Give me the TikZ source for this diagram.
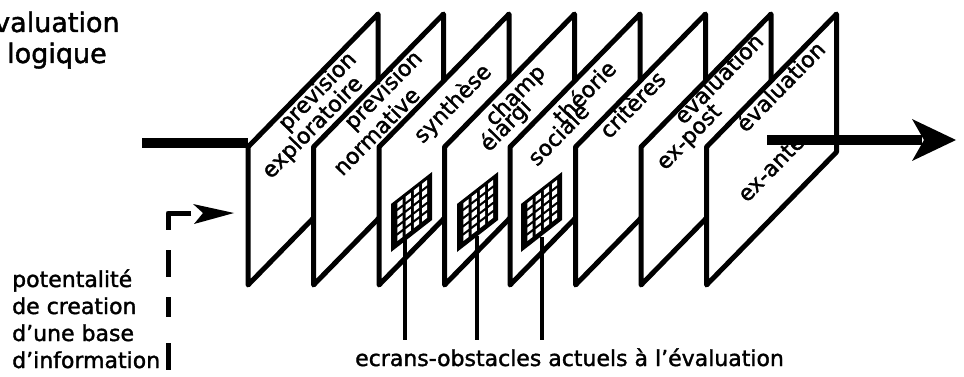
\documentclass[tikz,border=0pt]{standalone}
\usepackage{fontspec}
\setmainfont{DejaVu Sans}[FakeBold=1.6]
\usetikzlibrary{calc}
\newcommand{\drawpanel}[2]{%
  \coordinate (p#1-bl) at (#2,285);
  \coordinate (p#1-tl) at (#2,147);
  \coordinate (p#1-tr) at (#2+130,14);
  \coordinate (p#1-br) at (#2+130,152);
  \draw[panel] (p#1-bl) -- (p#1-tl) -- (p#1-tr) -- (p#1-br) -- cycle;
}
\newcommand{\drawscreen}[2]{%
  \coordinate (#1) at (#2,252);
  \fill[black] (#1) -- ++(0,-48) -- ++(41,-32) -- ++(0,48) -- cycle;
  \foreach \u in {0.22,0.42,0.62,0.82}{
    \foreach \v in {0.18,0.35,0.52,0.69,0.86}{
      \pgfmathsetmacro{\cx}{#2+41*\u}
      \pgfmathsetmacro{\cy}{252-32*\u-48*\v}
      \fill[white] (\cx-2.6,\cy+4.6) -- (\cx+2.6,\cy+0.6) -- (\cx+2.6,\cy-4.6) -- (\cx-2.6,\cy-0.6) -- cycle;
    }
  }
}
\begin{document}
\begin{tikzpicture}[x=1pt,y=-1pt]
\tikzset{
  panel/.style={draw=black, fill=white, line width=5pt, line join=round},
  plabel/.style={rotate=45.6, inner sep=0pt, font=\fontsize{22}{22}\selectfont},
  txt/.style={anchor=base west, inner sep=0pt, font=\fontsize{22}{27}\selectfont},
  ttl/.style={anchor=base west, inner sep=0pt, font=\fontsize{27}{31}\selectfont},
  thickline/.style={line width=10pt},
  obstline/.style={line width=3.5pt},
  dashline/.style={line width=5pt, line join=round,
    dash pattern=on 40pt off 20pt on 27pt off 20pt on 20pt off 26pt on 27pt off 10pt}
}
\useasboundingbox (0,0) rectangle (964,377);

% title (cut at the left border)
\node[ttl] (t1) at (-6,32) {valuation};
\node[ttl] (t2) at (7,63) {logique};

% panels, back to front
\drawpanel{1}{248}
\node[plabel] (l1a) at (318,92) {prevision};
\node[plabel] (l1b) at (313,128) {exploratoire};
\drawpanel{2}{313.5}
\node[plabel] (l2a) at (384,91) {prevision};
\node[plabel] (l2b) at (376,131) {normative};
\drawpanel{3}{379}
\node[plabel] (l3a) at (453,104) {synthèse};
\drawpanel{4}{444.5}
\node[plabel] (l4a) at (516,96) {champ};
\node[plabel] (l4b) at (506,126) {élargi};
\drawpanel{5}{510}
\node[plabel] (l5a) at (584,92) {théorie};
\node[plabel] (l5b) at (558,134) {sociale};
\drawpanel{6}{575.5}
\node[plabel] (l6a) at (632,104) {critères};
\drawpanel{7}{641}
\node[plabel] (l7a) at (718,78) {évaluation};
\node[plabel] (l7b) at (690,138) {ex-post};
\drawpanel{8}{706.5}
\node[plabel] (l8a) at (780,86) {évaluation};
\node[plabel] (l8b) at (771,168) {ex-ante};

% screens (obstacles)
\drawscreen{s1}{391}
\drawscreen{s2}{457}
\drawscreen{s3}{521}

% input and output
\coordinate (inL) at (142,143);
\draw[thickline] (inL) -- (inL -| p1-tl);
\coordinate (outL) at (767,140);
\coordinate (outTip) at (956,140);
\draw[thickline] (outL) -- ($(outTip)+(-34,0)$);
\fill[black] (outTip) -- ++(-44,-21) -- ++(12,21) -- ++(-12,21) -- cycle;

% bottom label and leader lines
\node[txt] (ecr) at (355,366) {ecrans-obstacles actuels à l'évaluation};
\coordinate (ecrtop) at (570,340);
\coordinate (o1) at (405,238);
\coordinate (o2) at (477,236);
\coordinate (o3) at (542,237);
\draw[obstline] (o1) -- (o1 |- ecrtop);
\draw[obstline] (o2) -- (o2 |- ecrtop);
\draw[obstline] (o3) -- (o3 |- ecrtop);

% left label
\node[txt] (b1) at (12,287) {potentalité};
\node[txt] (b2) at (12,314) {de creation};
\node[txt] (b3) at (12,341) {d'une base};
\node[txt] (b4) at (12,368) {d'information};

% dashed arrow
\coordinate (dend) at (191,213);
\coordinate (dcorner) at (168,213);
\coordinate (dbot) at (168,370);
\draw[dashline] (dend) -- (dcorner) -- (dbot);
\coordinate (dtip) at (234,213);
\fill[black] (dtip) -- ++(-41,-9) -- ++(10,9) -- ++(-9,11) -- cycle;
\end{tikzpicture}
\end{document}
